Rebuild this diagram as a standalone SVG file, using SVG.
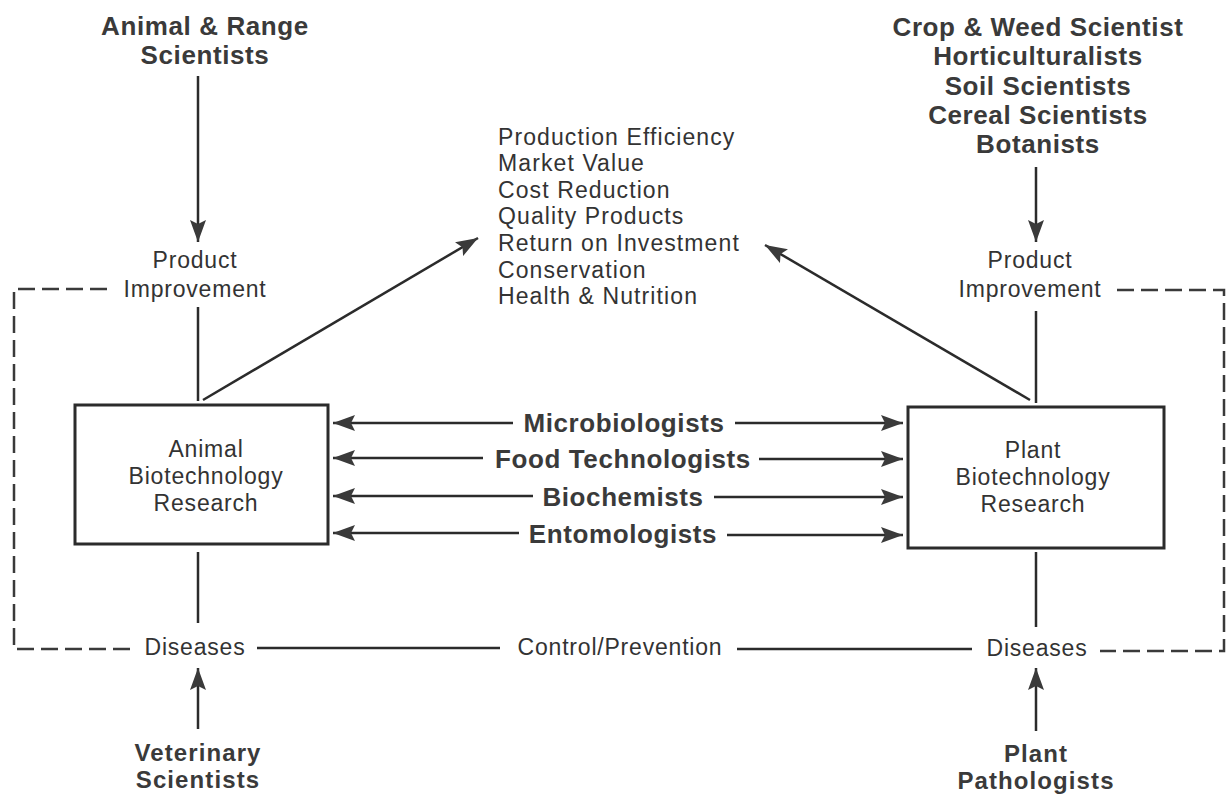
<svg xmlns="http://www.w3.org/2000/svg" width="1227" height="794" viewBox="0 0 1227 794">
<style>
.b{font-family:"Liberation Sans",Arial,sans-serif;font-weight:bold;font-size:26px;letter-spacing:0.6px;fill:#3a3a3a;text-anchor:middle}
.bs{font-size:24px;letter-spacing:1.1px}
.r{font-family:"Liberation Sans",Arial,sans-serif;font-size:23px;letter-spacing:0.8px;fill:#333;text-anchor:middle}
.l{font-family:"Liberation Sans",Arial,sans-serif;font-size:23px;letter-spacing:1.1px;fill:#333}
.ln{stroke:#2b2b2b;stroke-width:2.5;fill:none}
.d{stroke:#3a3a3a;stroke-width:2.5;fill:none;stroke-dasharray:17 7}
.box{fill:#fff;stroke:#2b2b2b;stroke-width:3}
</style>
<defs>
<marker id="ah" viewBox="0 0 22 16" refX="22" refY="8" markerWidth="22" markerHeight="16" markerUnits="userSpaceOnUse" orient="auto-start-reverse">
<path d="M0,0 L22,8 L0,16 L4,8 Z" fill="#3a3a3a"/>
</marker>
</defs>
<rect width="1227" height="794" fill="#fff"/>
<g id="connectors">
<line class="ln" x1="198" y1="76" x2="198" y2="242" marker-end="url(#ah)"/>
<line class="ln" x1="1036" y1="167" x2="1036" y2="242" marker-end="url(#ah)"/>
<line class="ln" x1="198" y1="307" x2="198" y2="401"/>
<line class="ln" x1="1036" y1="311" x2="1036" y2="403"/>
<line class="ln" x1="203" y1="400" x2="478" y2="238" marker-end="url(#ah)"/>
<line class="ln" x1="1030" y1="400" x2="765" y2="245" marker-end="url(#ah)"/>
<line class="ln" x1="198" y1="552" x2="198" y2="623"/>
<line class="ln" x1="1036" y1="552" x2="1036" y2="627"/>
<line class="ln" x1="198" y1="729" x2="198" y2="668" marker-end="url(#ah)"/>
<line class="ln" x1="1036" y1="731" x2="1036" y2="668" marker-end="url(#ah)"/>
<line class="ln" x1="513" y1="423" x2="333" y2="423" marker-end="url(#ah)"/>
<line class="ln" x1="735" y1="423" x2="903" y2="423" marker-end="url(#ah)"/>
<line class="ln" x1="483" y1="458" x2="333" y2="458" marker-end="url(#ah)"/>
<line class="ln" x1="759" y1="459" x2="903" y2="459" marker-end="url(#ah)"/>
<line class="ln" x1="533" y1="496" x2="333" y2="496" marker-end="url(#ah)"/>
<line class="ln" x1="714" y1="497" x2="903" y2="497" marker-end="url(#ah)"/>
<line class="ln" x1="519" y1="533" x2="333" y2="533" marker-end="url(#ah)"/>
<line class="ln" x1="727" y1="535" x2="903" y2="535" marker-end="url(#ah)"/>
<line class="ln" x1="257" y1="648" x2="500" y2="648"/>
<line class="ln" x1="737" y1="649" x2="972" y2="649"/>
<path class="d" d="M107,289 H14 V649 H135"/>
<path class="d" d="M1117,290 H1224 V651 H1100"/>
</g>
<g id="animal-range">
<text class="b" x="205" y="35">Animal &amp; Range</text>
<text class="b" x="205" y="64">Scientists</text>
</g>
<g id="crop-group">
<text class="b" x="1038" y="36">Crop &amp; Weed Scientist</text>
<text class="b" x="1038" y="65">Horticulturalists</text>
<text class="b" x="1038" y="95">Soil Scientists</text>
<text class="b" x="1038" y="124">Cereal Scientists</text>
<text class="b" x="1038" y="153">Botanists</text>
</g>
<g id="product-left">
<text class="r" x="195" y="268">Product</text>
<text class="r" x="195" y="297">Improvement</text>
</g>
<g id="product-right">
<text class="r" x="1030" y="268">Product</text>
<text class="r" x="1030" y="297">Improvement</text>
</g>
<g id="outcomes">
<text class="l" x="498" y="145">Production Efficiency</text>
<text class="l" x="498" y="171">Market Value</text>
<text class="l" x="498" y="198">Cost Reduction</text>
<text class="l" x="498" y="224">Quality Products</text>
<text class="l" x="498" y="251">Return on Investment</text>
<text class="l" x="498" y="278">Conservation</text>
<text class="l" x="498" y="304">Health &amp; Nutrition</text>
</g>
<g id="animal-box">
<rect class="box" x="75" y="405" width="253" height="139"/>
<text class="r" x="206" y="457">Animal</text>
<text class="r" x="206" y="484">Biotechnology</text>
<text class="r" x="206" y="511">Research</text>
</g>
<g id="plant-box">
<rect class="box" x="908" y="407" width="256" height="141"/>
<text class="r" x="1033" y="458">Plant</text>
<text class="r" x="1033" y="485">Biotechnology</text>
<text class="r" x="1033" y="512">Research</text>
</g>
<g id="shared">
<text class="b" x="624" y="432">Microbiologists</text>
<text class="b" x="623" y="468">Food Technologists</text>
<text class="b" x="623" y="506">Biochemists</text>
<text class="b" x="623" y="543">Entomologists</text>
</g>
<g id="diseases-left"><text class="r" x="195" y="655">Diseases</text></g>
<g id="control"><text class="r" x="620" y="655">Control/Prevention</text></g>
<g id="diseases-right"><text class="r" x="1037" y="656">Diseases</text></g>
<g id="veterinary">
<text class="b bs" x="198" y="761">Veterinary</text>
<text class="b bs" x="198" y="788">Scientists</text>
</g>
<g id="pathologists">
<text class="b bs" x="1036" y="762">Plant</text>
<text class="b bs" x="1036" y="789">Pathologists</text>
</g>
</svg>
